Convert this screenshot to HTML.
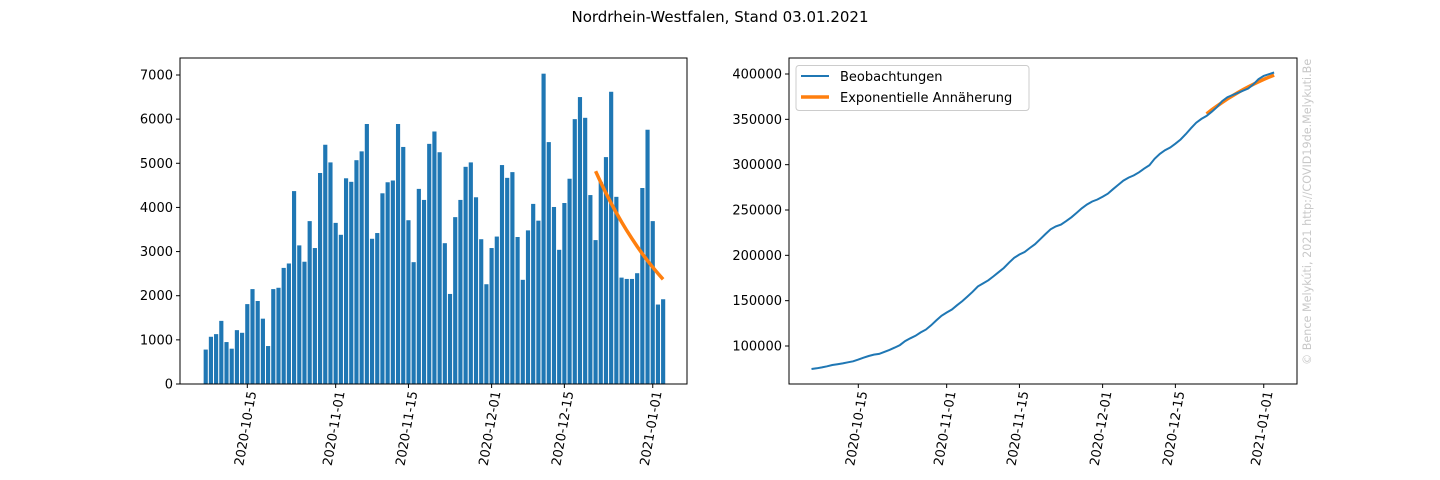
<!DOCTYPE html>
<html><head><meta charset="utf-8"><style>
html,body{margin:0;padding:0;background:#fff;}
svg{display:block;font-family:"DejaVu Sans","Liberation Sans",sans-serif;}
</style></head><body>
<svg id="chart" width="1440" height="480" xmlns="http://www.w3.org/2000/svg">
<text x="720" y="22" text-anchor="middle" font-size="15">Nordrhein-Westfalen, Stand 03.01.2021</text>
<g id="left"></g>
<g id="right"></g>
<text transform="translate(1311,365) rotate(-90)" font-size="11.2" fill="#c8c8c8">© Bence Melykúti, 2021  http://COVID19de.Melykuti.Be</text>
</svg>
<script>
// daily new cases, starting 2020-10-07
const dailyCases = [780,1070,1130,1430,950,800,1220,1160,1810,2150,1880,1480,860,2150,2180,2630,2730,4370,3140,2770,3690,3080,4780,5420,5020,3650,3380,4660,4580,5070,5270,5890,3290,3420,4320,4570,4610,5890,5370,3710,2760,4420,4170,5440,5720,5250,3190,2040,3780,4170,4920,5020,4230,3280,2260,3080,3340,4960,4670,4800,3330,2360,3480,4080,3700,7030,5480,4010,3040,4100,4650,6000,6500,6030,4280,3260,4580,5140,6620,4240,2410,2380,2380,2510,4440,5760,3690,1800,1920];
// exponential fit, 2020-12-21 .. 2021-01-03 (day index 75..88)
const fitStart = 75;
const fitValues = [4820,4564,4322,4093,3875,3670,3475,3291,3116,2951,2794,2646,2505,2372];
const cumulativeBase = 74600; // value on 2020-10-06
const cumulativeFitStart = 356000;
const leftTicks = [0,1000,2000,3000,4000,5000,6000,7000];
const rightTicks = [100000,150000,200000,250000,300000,350000,400000];
const dateLabels = ["2020-10-15","2020-11-01","2020-11-15","2020-12-01","2020-12-15","2021-01-01"];
const dateIdx = [8,25,39,55,69,86];

const NS="http://www.w3.org/2000/svg";
function mk(parent,tag,attrs,text){const e=document.createElementNS(NS,tag);for(const k in attrs)e.setAttribute(k,attrs[k]);if(text!==undefined)e.textContent=text;parent.appendChild(e);return e;}

const T=58,B=384;
const lx=d=>247.3+(d-8)*5.198;
const ly=v=>B-v*(B-75)/7000;
const rx=d=>858.3+(d-8)*5.198;
const ry=v=>346-(v-100000)*272/300000;

const L=document.getElementById('left'), R=document.getElementById('right');

dailyCases.forEach((v,i)=>{
  const r=mk(L,'rect',{x:lx(i)-2.08,y:ly(v),width:4.16,height:B-ly(v),fill:'#1f77b4'});
  
  
});
let p=fitValues.map((v,i)=>(i?'L':'M')+lx(fitStart+i).toFixed(1)+','+ly(v).toFixed(1)).join('');
const lf=mk(L,'path',{d:p,fill:'none',stroke:'#ff7f0e','stroke-width':3.5});



const cum=[cumulativeBase];dailyCases.forEach(v=>cum.push(cum[cum.length-1]+v));
p=cum.map((v,i)=>(i?'L':'M')+rx(i-1).toFixed(1)+','+ry(v).toFixed(1)).join('');
const cfit=[cumulativeFitStart];fitValues.slice(1).forEach(v=>cfit.push(cfit[cfit.length-1]+v*0.98));
const rf=mk(R,'path',{d:cfit.map((v,i)=>(i?'L':'M')+rx(fitStart+i).toFixed(1)+','+ry(v).toFixed(1)).join(''),fill:'none',stroke:'#ff7f0e','stroke-width':3.5});


const bl=mk(R,'path',{d:p,fill:'none',stroke:'#1f77b4','stroke-width':2});



function axes(g,x0,x1,ticks,yf,xf,name){
  const f=mk(g,'rect',{x:x0,y:T,width:x1-x0,height:B-T,fill:'none',stroke:'#000','stroke-width':1});
  
  
  ticks.forEach(t=>{const y=yf(t);
    mk(g,'line',{x1:x0-4,x2:x0,y1:y,y2:y,stroke:'#000'});
    const tx=mk(g,'text',{x:x0-7,y:y+4.5,'text-anchor':'end','font-size':13},String(t));
    
    
  });
  dateLabels.forEach((lab,i)=>{const x=xf(dateIdx[i]);
    mk(g,'line',{x1:x,x2:x,y1:B,y2:B+4,stroke:'#000'});
    const tx=mk(g,'text',{transform:`translate(${x+9},${B+8}) rotate(-80)`,'text-anchor':'end','font-size':13},lab);
    
    
  });
}
axes(L,180,687,leftTicks,ly,lx,'left');
axes(R,789,1297,rightTicks,ry,rx,'right');

const lg=mk(R,'g',{});


mk(lg,'rect',{x:796,y:65.5,width:233,height:45,rx:3,fill:'#fff',stroke:'#ccc'});
mk(lg,'line',{x1:801,x2:829,y1:76,y2:76,stroke:'#1f77b4','stroke-width':2});
const t1=mk(lg,'text',{x:840,y:81,'font-size':13},'Beobachtungen');


mk(lg,'line',{x1:801,x2:829,y1:97,y2:97,stroke:'#ff7f0e','stroke-width':3.5});
const t2=mk(lg,'text',{x:840,y:102,'font-size':13},'Exponentielle Annäherung');


</script>
</body></html>
